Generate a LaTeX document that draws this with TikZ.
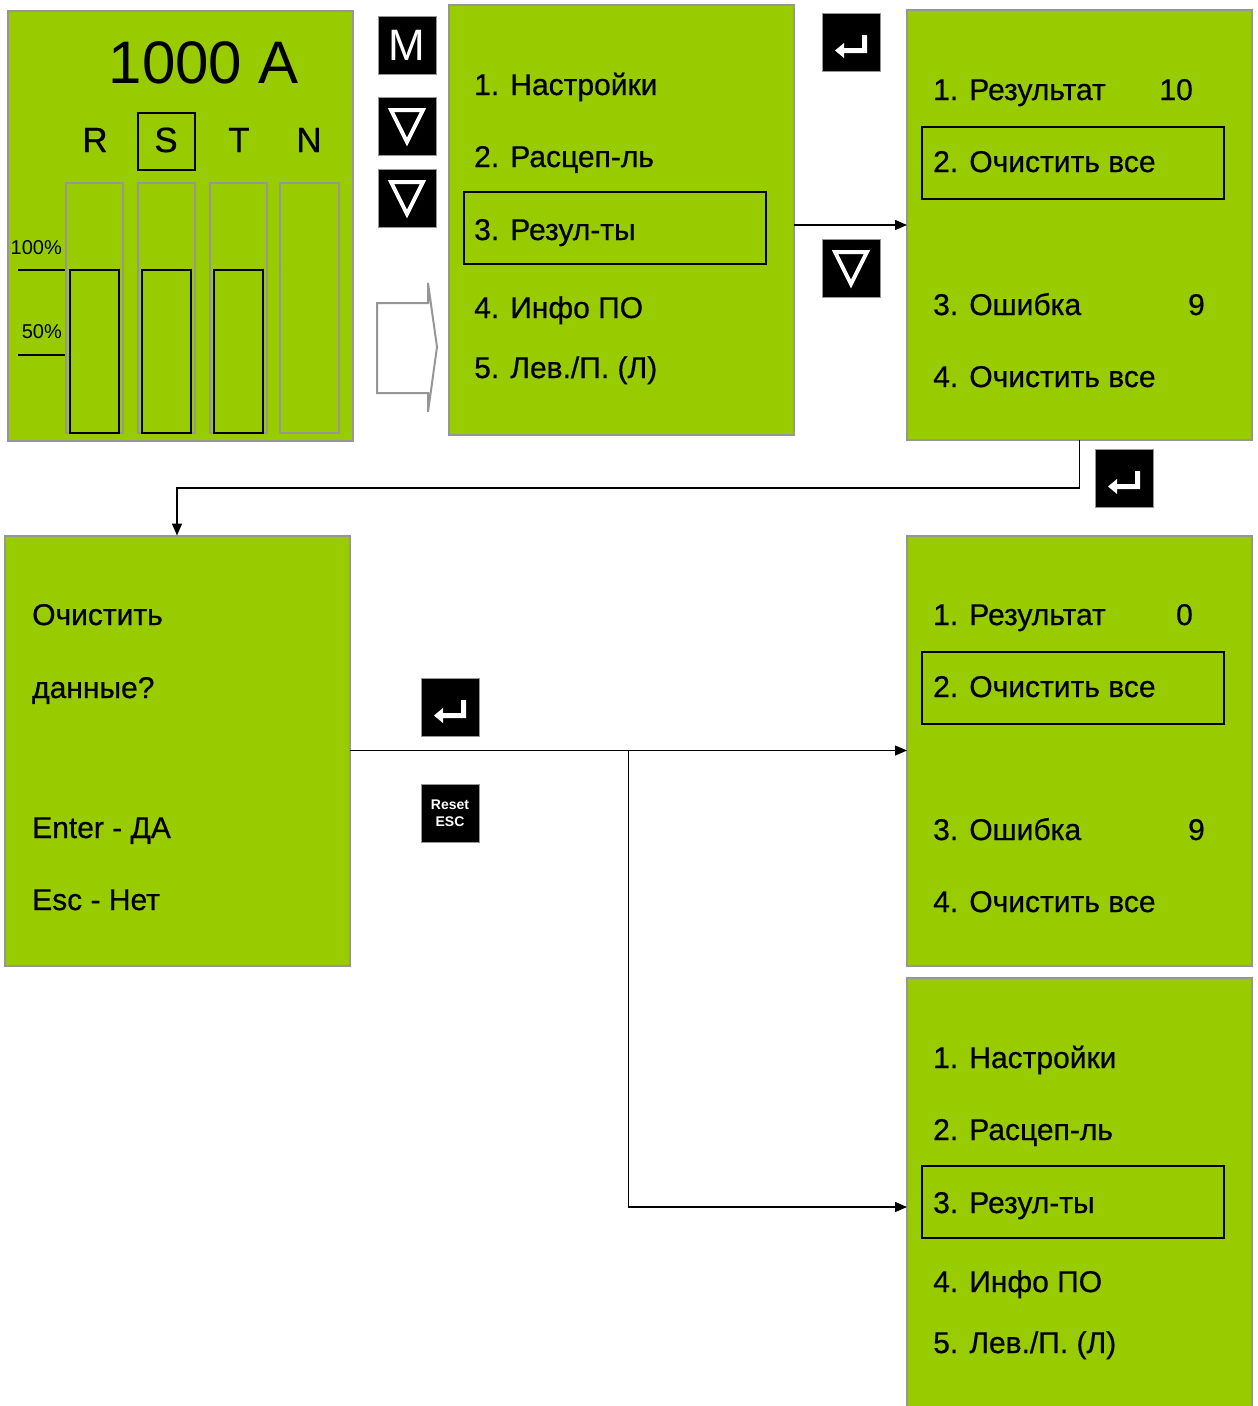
\documentclass[tikz,border=0pt]{standalone}
\usepackage{fontspec}
\setmainfont{Liberation Sans}
\newfontfamily\lcdfont{Liberation Sans}[FakeBold=0.6]
\definecolor{lcdgreen}{RGB}{153, 204, 0}
\definecolor{framegray}{RGB}{150, 150, 150}
\usetikzlibrary{arrows.meta, positioning, calc}

\tikzset{
  screen/.style={draw=framegray, line width=2pt, fill=lcdgreen, minimum width=345, minimum height=430, inner sep=0, outer sep=0},
  item/.style={anchor=base west, inner sep=0, font=\lcdfont\fontsize{30}{30}\selectfont},
  value/.style={anchor=base east, inner sep=0, font=\lcdfont\fontsize{30}{30}\selectfont},
  selbox/.style={draw=black, line width=2pt, minimum width=302, minimum height=72, inner sep=0},
  keybox/.style={fill=black, draw=framegray, line width=1pt, minimum size=58, inner sep=0, text=white},
  downkey/.style={keybox, path picture={\draw[white, line width=4pt, shift={(path picture bounding box.center)}] (-16,-16) -- (16,-16) -- (0,16) -- cycle;}},
  enterkey/.style={keybox, path picture={\fill[white, shift={(path picture bounding box.center)}] (16,-7.5) -- (16,10.5) -- (-7,10.5) -- (-7,15.5) -- (-16,8) -- (-7,0.5) -- (-7,5.5) -- (11,5.5) -- (11,-7.5) -- cycle;}},
  flow/.style={line width=1.5pt, -{Triangle[length=12pt, width=10pt]}},
}

\begin{document}
\begin{tikzpicture}[x=1pt, y=-1pt]
  \useasboundingbox (0,0) rectangle (1258,1406);

  \node[screen] (disp) at (180.5,226) {};
  \node[screen] (menu) at (621.5,220) {};
  \node[screen] (res) at (1079.5,225) {};
  \node[screen] (clear) at (177,750.5) {};
  \node[screen] (res2) at (1079.5,750.5) {};
  \node[screen] (menu2) at (1079.5,1193) {};

  \node[anchor=base, inner sep=0, font=\fontsize{60}{60}\selectfont] (amps) at (204,83) {1000 A};
  \foreach \x/\p in {95/R, 166/S, 239/T, 309/N}
    \node[anchor=base, inner sep=0, font=\lcdfont\fontsize{35}{35}\selectfont] (ph\p) at (\x,152) {\p};
  \node[draw=black, line width=2pt, minimum size=57, inner sep=0] (selS) at (166.5,141.5) {};
  \foreach \x in {66,138,210}
    \draw[framegray, line width=1.5pt] (\x,183) rectangle ++(57,250);
  \draw[framegray, line width=1.5pt] (280,183) rectangle (339,433);
  \foreach \x in {70,142,214}
    \draw[black, line width=2pt] (\x,270) rectangle ++(49,163);
  \node[anchor=base east, inner sep=0, font=\fontsize{20}{20}\selectfont] (full) at (62,254) {100\%};
  \node[anchor=base east, inner sep=0, font=\fontsize{20}{20}\selectfont] (half) at (62,338) {50\%};
  \draw[line width=1.2pt] (18,270) -- (65,270);
  \draw[line width=1.2pt] (18,355) -- (65,355);

  \node[keybox, font=\fontsize{44}{44}\selectfont] (keyM) at (407,45) {M};
  \node[downkey] (keyD1) at (407,126) {};
  \node[downkey] (keyD2) at (407,198) {};
  \draw[framegray, line width=2pt, fill=white] (377,303) -- (428,303) -- (428,283) -- (437,347) -- (428,412) -- (428,393) -- (377,393) -- cycle;

  \node[selbox] (sel1) at (614.5,227.5) {};
  \node[item] (m1) at (474,95) {1. Настройки};
  \node[item] (m2) at (474,167) {2. Расцеп-ль};
  \node[item] (m3) at (474,240) {3. Резул-ты};
  \node[item] (m4) at (474,318) {4. Инфо ПО};
  \node[item] (m5) at (474,378) {5. Лев./П. (Л)};

  \node[enterkey] (keyE1) at (851,42.5) {};
  \node[downkey] (keyD3) at (851,268) {};

  \node[selbox] (sel2) at (1073,162.5) {};
  \node[item] (r1) at (933,100) {1. Результат};
  \node[value] (r1v) at (1193,100) {10};
  \node[item] (r2) at (933,172) {2. Очистить все};
  \node[item] (r3) at (933,315) {3. Ошибка};
  \node[value] (r3v) at (1205,315) {9};
  \node[item] (r4) at (933,387) {4. Очистить все};

  \node[enterkey] (keyE2) at (1124,478.5) {};

  \node[item] (c1) at (32,625) {Очистить};
  \node[item] (c2) at (32,698) {данные?};
  \node[item] (c3) at (32,838) {Enter - ДА};
  \node[item] (c4) at (32,910) {Esc - Нет};

  \node[enterkey] (keyE3) at (450,707.5) {};
  \node[keybox, align=center, font=\bfseries\fontsize{14}{17}\selectfont] (keyEsc) at (450,813.5) {Reset\\ESC};

  \node[selbox] (sel3) at (1073,687.5) {};
  \node[item] (s1) at (933,625) {1. Результат};
  \node[value] (s1v) at (1193,625) {0};
  \node[item] (s2) at (933,697) {2. Очистить все};
  \node[item] (s3) at (933,840) {3. Ошибка};
  \node[value] (s3v) at (1205,840) {9};
  \node[item] (s4) at (933,912) {4. Очистить все};

  \node[selbox] (sel4) at (1073,1202) {};
  \node[item] (n1) at (933,1068) {1. Настройки};
  \node[item] (n2) at (933,1140) {2. Расцеп-ль};
  \node[item] (n3) at (933,1213) {3. Резул-ты};
  \node[item] (n4) at (933,1292) {4. Инфо ПО};
  \node[item] (n5) at (933,1353) {5. Лев./П. (Л)};

  \coordinate (split) at ($(clear.east)!0.5!(res2.west)$);
  \draw[flow] (menu.east |- res.west) -- (res.west);
  \draw[flow] (res.south) -- ++(0,48) -| (clear.north);
  \draw[flow] (clear.east) -- (res2.west);
  \draw[flow] (split) |- ([yshift=-14pt]menu2.west);
\end{tikzpicture}
\end{document}
